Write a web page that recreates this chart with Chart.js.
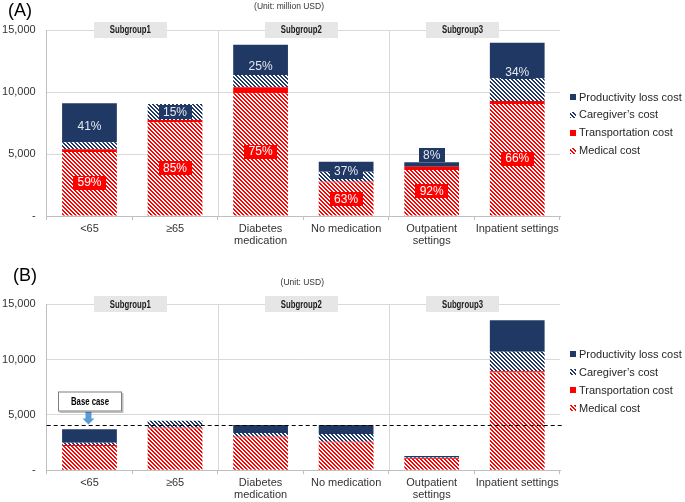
<!DOCTYPE html>
<html><head><meta charset="utf-8">
<script src="https://cdn.jsdelivr.net/npm/chart.js@4.4.1/dist/chart.umd.min.js"></script>
<style>
html,body{margin:0;padding:0;background:#fff;width:685px;height:502px;overflow:hidden}
canvas{position:absolute;left:0}
#ca{top:0}
#cb{top:251px}
</style></head><body>
<canvas id="ca" width="685" height="251"></canvas>
<canvas id="cb" width="685" height="251"></canvas>
<script>
// ---------- data ----------
const categories = ['<65', '≥65', ['Diabetes', 'medication'], 'No medication', ['Outpatient', 'settings'], 'Inpatient settings'];
const seriesNames = ['Medical cost', 'Transportation cost', 'Caregiver’s cost', 'Productivity loss cost'];
const subgroupNames = ['Subgroup1', 'Subgroup2', 'Subgroup3'];
const subgroupSpans = [[0, 1], [2, 3], [4, 5]];
const yTicks = [0, 5000, 10000, 15000];

// Panel A (million USD)
const medicalA      = [5160, 7560, 9900, 2700, 3710, 9030];
const transportA    = [220, 180, 480, 70, 270, 240];
const caregiverA    = [560, 1290, 990, 800, 0, 1830];
const productivityA = [3150, 0, 2440, 810, 350, 2880];
const directPctA    = ['59%', '85%', '75%', '63%', '92%', '66%'];
const indirectPctA  = ['41%', '15%', '25%', '37%', '8%', '34%'];

// Panel B (USD)
const medicalB      = [2200, 3780, 2960, 2520, 1030, 8830];
const transportB    = [90, 70, 80, 60, 70, 110];
const caregiverB    = [200, 630, 330, 700, 50, 1780];
const productivityB = [1210, 0, 720, 810, 140, 2830];
const baseCaseB     = 4090;

// ---------- styles ----------
const NAVY = '#1F3864';
const RED = '#FF0000';
const FONT = '"Liberation Sans", Arial, sans-serif';
const NARROW = '"Liberation Sans Narrow", "Liberation Sans", Arial, sans-serif';

function makePattern(color) {
  const c = document.createElement('canvas');
  c.width = 4; c.height = 4;
  const g = c.getContext('2d');
  g.fillStyle = '#fff'; g.fillRect(0, 0, 4, 4);
  g.fillStyle = color;
  for (let y = 0; y < 4; y++) for (let x = 0; x < 4; x++) {
    if ((((x - y) % 4) + 4) % 4 < 2) g.fillRect(x, y, 1, 1);
  }
  return g.createPattern(c, 'repeat');
}
const medPat = makePattern(RED);
const carePat = makePattern(NAVY);

function boxLabel(ctx, text, cx, cy, fill, color) {
  ctx.font = '12px ' + FONT;
  const w = ctx.measureText(text).width + 9;
  const h = 14;
  ctx.fillStyle = fill;
  ctx.fillRect(Math.round(cx - w / 2), Math.round(cy - h / 2), Math.round(w), h);
  ctx.fillStyle = color;
  ctx.textAlign = 'center'; ctx.textBaseline = 'middle';
  ctx.fillText(text, cx, cy + 0.5);
}

const panelPlugin = {
  id: 'panel',
  beforeDatasetsDraw(chart, args, cfg) {
    const ctx = chart.ctx, xs = chart.scales.x, a = chart.chartArea;
    ctx.save();
    ctx.strokeStyle = '#D9D9D9'; ctx.lineWidth = 1;
    for (let g = 0; g < subgroupSpans.length - 1; g++) {
      const i = subgroupSpans[g][1];
      const x = Math.round((xs.getPixelForValue(i) + xs.getPixelForValue(i + 1)) / 2) + 0.5;
      ctx.beginPath(); ctx.moveTo(x, a.top); ctx.lineTo(x, a.bottom); ctx.stroke();
    }
    ctx.restore();
  },
  afterDatasetsDraw(chart, args, cfg) {
    const ctx = chart.ctx, xs = chart.scales.x, ys = chart.scales.y, a = chart.chartArea;
    const ds = chart.data.datasets;
    ctx.save();
    // percentage labels
    if (cfg.direct) {
      categories.forEach((c, i) => {
        const cx = xs.getPixelForValue(i);
        const direct = ds[0].data[i] + ds[1].data[i];
        const total = direct + ds[2].data[i] + ds[3].data[i];
        boxLabel(ctx, cfg.direct[i], cx, ys.getPixelForValue(direct / 2), RED, '#fff');
        const yTop = ys.getPixelForValue(total), yBot = ys.getPixelForValue(direct);
        const cy = (yBot - yTop) >= 13 ? (yTop + yBot) / 2 : yTop - 7;
        boxLabel(ctx, cfg.indirect[i], cx, cy, NAVY, '#E6E8F0');
      });
    }
    // base case
    if (cfg.baseCase !== undefined) {
      const by = Math.round(ys.getPixelForValue(cfg.baseCase)) + 0.5;
      ctx.strokeStyle = '#000'; ctx.lineWidth = 1; ctx.setLineDash([4, 3]);
      ctx.beginPath(); ctx.moveTo(a.left, by); ctx.lineTo(a.right + 2, by); ctx.stroke();
      ctx.setLineDash([]);
      const ax = xs.getPixelForValue(0) - 1;
      const tip = by - 1, atop = tip - 13;
      ctx.fillStyle = '#5B9BD5';
      ctx.beginPath();
      ctx.moveTo(ax - 3, atop); ctx.lineTo(ax + 3, atop); ctx.lineTo(ax + 3, tip - 6);
      ctx.lineTo(ax + 6, tip - 6); ctx.lineTo(ax, tip); ctx.lineTo(ax - 6, tip - 6);
      ctx.lineTo(ax - 3, tip - 6); ctx.closePath(); ctx.fill();
      const bw = 64, bh = 20, bx = Math.round(ax + 1.5 - bw / 2), byy = atop - bh;
      ctx.fillStyle = 'rgba(0,0,0,0.25)';
      ctx.fillRect(bx + 1.5, byy + 1.5, bw, bh);
      ctx.fillStyle = '#fff'; ctx.fillRect(bx, byy, bw, bh);
      ctx.strokeStyle = '#7F7F7F'; ctx.strokeRect(bx + 0.5, byy + 0.5, bw - 1, bh - 1);
      ctx.fillStyle = '#000'; ctx.font = 'bold 10px ' + NARROW;
      ctx.textAlign = 'center'; ctx.textBaseline = 'middle';
      ctx.fillText('Base case', bx + bw / 2, byy + bh / 2 + 0.5, 38);
    }
    // subgroup boxes
    const step = xs.getPixelForValue(1) - xs.getPixelForValue(0);
    subgroupSpans.forEach((sp, g) => {
      const l = xs.getPixelForValue(sp[0]) - step / 2;
      const r = xs.getPixelForValue(sp[1]) + step / 2;
      const cx = (l + r) / 2 + (g === 2 ? -12 : -2);
      const w = 73, h = 16;
      ctx.fillStyle = '#E6E6E6';
      ctx.fillRect(Math.round(cx - w / 2), Math.round(a.top - h / 2), w, h);
      ctx.fillStyle = '#1a1a1a'; ctx.font = 'bold 10px ' + NARROW;
      ctx.textAlign = 'center'; ctx.textBaseline = 'middle';
      ctx.fillText(subgroupNames[g], cx, a.top + 0.5, 41);
    });
    // legend (reverse order)
    ctx.font = '11px ' + FONT; ctx.textAlign = 'left'; ctx.textBaseline = 'middle';
    for (let k = 0; k < 4; k++) {
      const d = ds[3 - k];
      const y = cfg.legendY + k * 17.9;
      ctx.fillStyle = d.backgroundColor;
      ctx.fillRect(570, Math.round(y - 3), 6, 6);
      ctx.fillStyle = '#262626';
      ctx.fillText(d.label, 579, y + 0.5);
    }
    // title + unit
    ctx.fillStyle = '#000'; ctx.font = '18px ' + FONT;
    ctx.textAlign = 'left'; ctx.textBaseline = 'middle';
    ctx.fillText(cfg.title, cfg.titleX, cfg.titleY);
    ctx.fillStyle = '#333'; ctx.font = '8.5px ' + FONT; ctx.textAlign = 'right';
    ctx.fillText(cfg.unit, 324, cfg.unitY);
    ctx.restore();
  }
};

function buildChart(id, d, cfg) {
  return new Chart(document.getElementById(id), {
    type: 'bar',
    data: {
      labels: categories,
      datasets: [
        { label: seriesNames[0], data: d[0], backgroundColor: medPat },
        { label: seriesNames[1], data: d[1], backgroundColor: RED },
        { label: seriesNames[2], data: d[2], backgroundColor: carePat },
        { label: seriesNames[3], data: d[3], backgroundColor: NAVY }
      ]
    },
    options: {
      responsive: false, animation: false, devicePixelRatio: 1,
      layout: { padding: { top: cfg.top, right: 125, left: 0, bottom: 0 } },
      datasets: { bar: { categoryPercentage: 1, barPercentage: 0.64, borderWidth: 0 } },
      plugins: { legend: { display: false }, tooltip: { enabled: false }, panel: cfg },
      scales: {
        x: {
          stacked: true,
          grid: { offset: true, drawOnChartArea: false, tickLength: 4, color: '#BFBFBF' },
          border: { color: '#BFBFBF' },
          ticks: { font: { family: FONT, size: 11, lineHeight: 1.1 }, color: '#333', padding: 3, maxRotation: 0, autoSkip: false },
          afterFit(s) { s.height = cfg.xh; }
        },
        y: {
          stacked: true, min: 0, max: 15000,
          afterBuildTicks(s) { s.ticks = yTicks.map(v => ({ value: v })); },
          grid: { color: '#D9D9D9', drawTicks: false },
          border: { color: '#BFBFBF' },
          ticks: { font: { family: FONT, size: 11 }, color: '#333', padding: 11,
                   callback: v => v === 0 ? '-' : v.toLocaleString('en-US') },
          afterFit(s) { s.width = 46.7; }
        }
      }
    },
    plugins: [panelPlugin]
  });
}

buildChart('ca', [medicalA, transportA, caregiverA, productivityA],
  { top: 30, xh: 35, title: '(A)', titleX: 8, titleY: 11, unit: '(Unit: million USD)', unitY: 7,
    legendY: 97, direct: directPctA, indirect: indirectPctA });
buildChart('cb', [medicalB, transportB, caregiverB, productivityB],
  { top: 53.3, xh: 31.7, title: '(B)', titleX: 13, titleY: 25, unit: '(Unit: USD)', unitY: 32,
    legendY: 103.3, baseCase: baseCaseB });
</script>
</body></html>
